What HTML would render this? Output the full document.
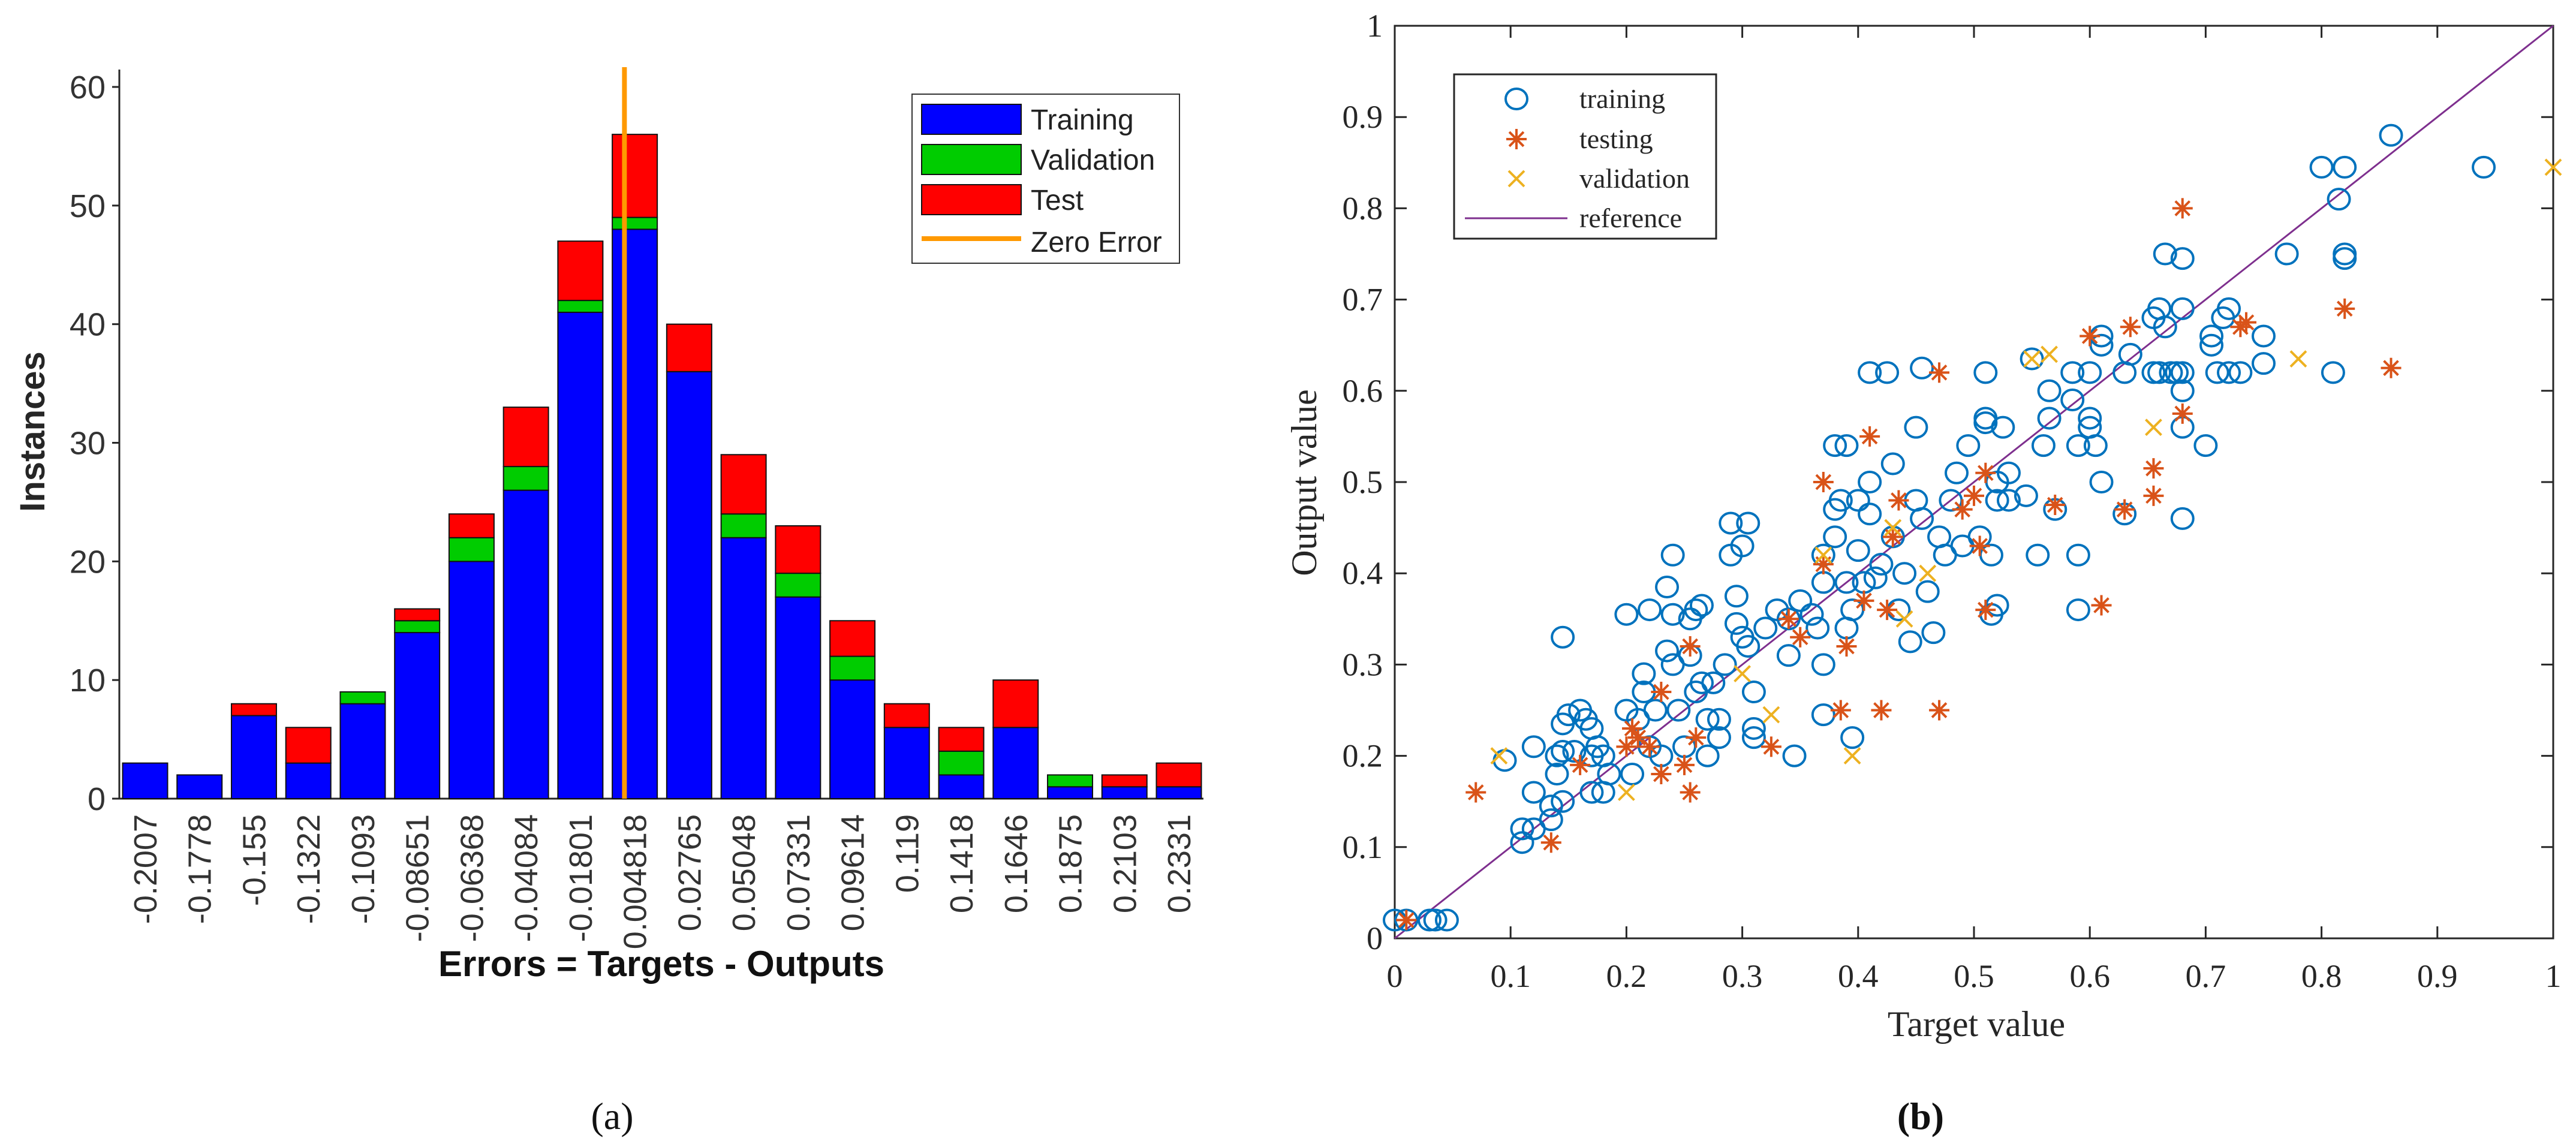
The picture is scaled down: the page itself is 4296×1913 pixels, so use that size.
<!DOCTYPE html>
<html><head><meta charset="utf-8"><style>
html,body{margin:0;padding:0;background:#fff;}
svg{display:block;}
</style></head><body>
<svg id="fig" width="4296" height="1913" xmlns="http://www.w3.org/2000/svg">
<g id="hist"></g>
<g id="scat"></g>
</svg>
<script>
// ---------- Histogram data ----------
const binLabels = ["-0.2007","-0.1778","-0.155","-0.1322","-0.1093","-0.08651","-0.06368","-0.04084","-0.01801","0.004818","0.02765","0.05048","0.07331","0.09614","0.119","0.1418","0.1646","0.1875","0.2103","0.2331"];
const trainCounts = [3,2,7,3,8,14,20,26,41,48,36,22,17,10,6,2,6,1,1,1];
const valCounts   = [0,0,0,0,1,1,2,2,1,1,0,2,2,2,0,2,0,1,0,0];
const testCounts  = [0,0,1,3,0,1,2,5,5,7,4,5,4,3,2,2,4,0,1,2];
const yTicksHist = [0,10,20,30,40,50,60];
const zeroErrorBin = 8.81;

// ---------- Scatter data ----------
const trainX = [0.0,0.01,0.03,0.035,0.045,0.095,0.11,0.11,0.12,0.12,0.12,0.135,0.135,0.14,0.14,0.145,0.145,0.145,0.15,0.145,0.155,0.16,0.165,0.17,0.17,0.17,0.175,0.18,0.18,0.185,0.2,0.2,0.205,0.21,0.215,0.215,0.22,0.22,0.225,0.23,0.235,0.235,0.24,0.24,0.24,0.245,0.25,0.255,0.255,0.26,0.26,0.265,0.265,0.27,0.27,0.275,0.28,0.28,0.285,0.29,0.29,0.295,0.295,0.3,0.3,0.305,0.305,0.31,0.31,0.31,0.32,0.33,0.34,0.34,0.345,0.35,0.36,0.365,0.37,0.37,0.37,0.37,0.38,0.38,0.38,0.385,0.39,0.39,0.39,0.395,0.395,0.4,0.4,0.405,0.41,0.41,0.41,0.415,0.42,0.425,0.43,0.43,0.435,0.44,0.445,0.45,0.45,0.455,0.455,0.46,0.465,0.47,0.475,0.48,0.485,0.49,0.495,0.505,0.51,0.51,0.51,0.515,0.515,0.52,0.52,0.52,0.525,0.53,0.53,0.545,0.55,0.555,0.56,0.565,0.565,0.57,0.585,0.585,0.59,0.59,0.59,0.6,0.6,0.6,0.605,0.61,0.61,0.61,0.63,0.63,0.635,0.655,0.655,0.66,0.66,0.665,0.665,0.67,0.675,0.68,0.68,0.68,0.68,0.68,0.68,0.7,0.705,0.705,0.71,0.715,0.72,0.72,0.73,0.75,0.75,0.77,0.8,0.81,0.815,0.82,0.82,0.82,0.86,0.94];
const trainY = [0.02,0.02,0.02,0.02,0.02,0.195,0.105,0.12,0.12,0.16,0.21,0.13,0.145,0.2,0.18,0.15,0.205,0.235,0.245,0.33,0.205,0.25,0.24,0.23,0.2,0.16,0.21,0.16,0.2,0.18,0.355,0.25,0.18,0.24,0.27,0.29,0.36,0.21,0.25,0.2,0.315,0.385,0.3,0.355,0.42,0.25,0.21,0.31,0.35,0.36,0.27,0.28,0.365,0.2,0.24,0.28,0.22,0.24,0.3,0.42,0.455,0.345,0.375,0.33,0.43,0.455,0.32,0.27,0.23,0.22,0.34,0.36,0.31,0.35,0.2,0.37,0.355,0.34,0.42,0.39,0.3,0.245,0.54,0.47,0.44,0.48,0.54,0.39,0.34,0.22,0.36,0.48,0.425,0.39,0.5,0.465,0.62,0.395,0.41,0.62,0.52,0.44,0.36,0.4,0.325,0.48,0.56,0.625,0.46,0.38,0.335,0.44,0.42,0.48,0.51,0.43,0.54,0.44,0.62,0.57,0.565,0.42,0.355,0.48,0.5,0.365,0.56,0.51,0.48,0.485,0.635,0.42,0.54,0.6,0.57,0.47,0.59,0.62,0.54,0.42,0.36,0.62,0.57,0.56,0.54,0.66,0.65,0.5,0.465,0.62,0.64,0.62,0.68,0.69,0.62,0.75,0.67,0.62,0.62,0.745,0.69,0.6,0.62,0.56,0.46,0.54,0.65,0.66,0.62,0.68,0.69,0.62,0.62,0.66,0.63,0.75,0.845,0.62,0.81,0.845,0.75,0.745,0.88,0.845];
const testX = [0.01,0.07,0.135,0.16,0.2,0.205,0.21,0.22,0.23,0.23,0.25,0.255,0.255,0.26,0.325,0.34,0.35,0.37,0.37,0.385,0.39,0.405,0.41,0.42,0.425,0.43,0.435,0.47,0.47,0.49,0.5,0.505,0.51,0.51,0.57,0.6,0.61,0.63,0.635,0.655,0.655,0.68,0.68,0.73,0.735,0.82,0.86];
const testY = [0.02,0.16,0.105,0.19,0.21,0.23,0.22,0.21,0.18,0.27,0.19,0.16,0.32,0.22,0.21,0.35,0.33,0.41,0.5,0.25,0.32,0.37,0.55,0.25,0.36,0.44,0.48,0.62,0.25,0.47,0.485,0.43,0.51,0.36,0.475,0.66,0.365,0.47,0.67,0.515,0.485,0.8,0.575,0.67,0.675,0.69,0.625];
const valX = [0.09,0.2,0.3,0.325,0.37,0.395,0.43,0.44,0.46,0.55,0.565,0.655,0.78,1.0];
const valY = [0.2,0.16,0.29,0.245,0.42,0.2,0.45,0.35,0.4,0.635,0.64,0.56,0.635,0.845];
const sTicks = [0,0.1,0.2,0.3,0.4,0.5,0.6,0.7,0.8,0.9,1];
const sTickLabels = ["0","0.1","0.2","0.3","0.4","0.5","0.6","0.7","0.8","0.9","1"];

const NS = "http://www.w3.org/2000/svg";
function mk(parent, tag, attrs, text){
  const e = document.createElementNS(NS, tag);
  for (const k in attrs) e.setAttribute(k, attrs[k]);
  if (text !== undefined) e.textContent = text;
  parent.appendChild(e);
  return e;
}

// ================= HISTOGRAM =================
(function(){
  const g = document.getElementById('hist');
  const L=199, R=2007, T=116, B=1332;
  const y = v => B - v*(B-145)/60;
  const x0 = 242, pitch = (1966-242)/19, bw = 75;
  const x = i => x0 + i*pitch;
  const sans = '"Liberation Sans", Arial, sans-serif';

  let a = mk(g,'line',{x1:L,y1:T,x2:L,y2:B,stroke:'#262626','stroke-width':3});
   
  a = mk(g,'line',{x1:L,y1:B,x2:R,y2:B,stroke:'#262626','stroke-width':3});
   

  yTicksHist.forEach(v=>{
    const t = mk(g,'line',{x1:L-12,y1:y(v),x2:L,y2:y(v),stroke:'#262626','stroke-width':3});
     
    const lb = mk(g,'text',{x:176,y:y(v)+19,'text-anchor':'end','font-family':sans,'font-size':54,fill:'#333'},String(v));
     
  });

  binLabels.forEach((lab,i)=>{
    const cx = x(i);
    const tr = trainCounts[i], va = valCounts[i], te = testCounts[i];
    const segs = [[0,tr,'#0000FF','bar-training'],[tr,tr+va,'#00CC00','bar-validation'],[tr+va,tr+va+te,'#FF0000','bar-test']];
    segs.forEach(s=>{
      if (s[1]>s[0]){
        const r = mk(g,'rect',{x:cx-bw/2,y:y(s[1]),width:bw,height:y(s[0])-y(s[1]),fill:s[2],stroke:'#111','stroke-width':2});
         
      }
    });
    const t = mk(g,'text',{x:0,y:0,'text-anchor':'end','font-family':sans,'font-size':54,fill:'#333',
      transform:`translate(${cx+19},${B+26}) rotate(-90)`},lab);
     
  });

  const zx = x(zeroErrorBin);
  const z = mk(g,'line',{x1:zx,y1:112,x2:zx,y2:B,stroke:'#FF9900','stroke-width':8});
   

  let t = mk(g,'text',{x:0,y:0,'text-anchor':'middle','font-family':sans,'font-size':58,'font-weight':'bold',fill:'#262626',
    transform:'translate(74,720) rotate(-90)'},'Instances');
   
  t = mk(g,'text',{x:1103,y:1628,'text-anchor':'middle','font-family':sans,'font-size':60,'font-weight':'bold',fill:'#111'},'Errors = Targets - Outputs');
   

  const lg = mk(g,'g',{});
   
  mk(lg,'rect',{x:1521,y:157,width:446,height:282,fill:'#fff',stroke:'#333','stroke-width':2});
  const entries = [['Training','#0000FF',199],['Validation','#00CC00',266],['Test','#FF0000',333]];
  entries.forEach(e=>{
    const r = mk(lg,'rect',{x:1537,y:e[2]-25,width:166,height:50,fill:e[1],stroke:'#111','stroke-width':2});
     
    const tx = mk(lg,'text',{x:1719,y:e[2]+17,'font-family':sans,'font-size':48,fill:'#222'},e[0]);
     
  });
  const ol = mk(lg,'line',{x1:1537,y1:398,x2:1703,y2:398,stroke:'#FF9900','stroke-width':8});
   
  const ot = mk(lg,'text',{x:1719,y:420,'font-family':sans,'font-size':48,fill:'#222'},'Zero Error');
   

  const cap = mk(g,'text',{x:1021,y:1883,'text-anchor':'middle','font-family':'"Liberation Serif", serif','font-size':64,fill:'#111'},'(a)');
   
})();

// ================= SCATTER =================
(function(){
  const g = document.getElementById('scat');
  const L=2326, R=4258, T=43, B=1565;
  const sx = v => L + v*(R-L);
  const sy = v => B - v*(B-T);
  const serif = '"Liberation Serif", "Times New Roman", serif';

  let f = mk(g,'rect',{x:L,y:T,width:R-L,height:B-T,fill:'#fff',stroke:'#262626','stroke-width':3});
   

  sTicks.forEach((v,i)=>{
    let t;
    t = mk(g,'line',{x1:sx(v),y1:B,x2:sx(v),y2:B-20,stroke:'#262626','stroke-width':3});  
    t = mk(g,'line',{x1:sx(v),y1:T,x2:sx(v),y2:T+20,stroke:'#262626','stroke-width':3});  
    t = mk(g,'line',{x1:L,y1:sy(v),x2:L+20,y2:sy(v),stroke:'#262626','stroke-width':3});  
    t = mk(g,'line',{x1:R,y1:sy(v),x2:R-20,y2:sy(v),stroke:'#262626','stroke-width':3});  
    t = mk(g,'text',{x:sx(v),y:1646,'text-anchor':'middle','font-family':serif,'font-size':54,fill:'#262626'},sTickLabels[i]);
     
    t = mk(g,'text',{x:2306,y:sy(v)+18,'text-anchor':'end','font-family':serif,'font-size':54,fill:'#262626'},sTickLabels[i]);
     
  });

  const ref = mk(g,'line',{x1:sx(0),y1:sy(0),x2:sx(1),y2:sy(1),stroke:'#7E2F8E','stroke-width':3});
   

  trainX.forEach((xv,i)=>{
    const c = mk(g,'ellipse',{cx:sx(xv),cy:sy(trainY[i]),rx:18,ry:17,fill:'none',stroke:'#0072BD','stroke-width':4});
     
  });
  function star(parent,cx,cy,s){
    return mk(parent,'path',{d:`M${cx-s} ${cy}H${cx+s}M${cx} ${cy-s}V${cy+s}M${cx-s*0.7} ${cy-s*0.7}L${cx+s*0.7} ${cy+s*0.7}M${cx-s*0.7} ${cy+s*0.7}L${cx+s*0.7} ${cy-s*0.7}`,stroke:'#D95319','stroke-width':4,fill:'none'});
  }
  testX.forEach((xv,i)=>{
    const p = star(g,sx(xv),sy(testY[i]),17);
     
  });
  function cross(parent,cx,cy,s){
    return mk(parent,'path',{d:`M${cx-s} ${cy-s}L${cx+s} ${cy+s}M${cx-s} ${cy+s}L${cx+s} ${cy-s}`,stroke:'#EDB120','stroke-width':4,fill:'none'});
  }
  valX.forEach((xv,i)=>{
    const p = cross(g,sx(xv),sy(valY[i]),13);
     
  });

  let t = mk(g,'text',{x:3296,y:1728,'text-anchor':'middle','font-family':serif,'font-size':60,fill:'#262626'},'Target value');
   
  t = mk(g,'text',{x:0,y:0,'text-anchor':'middle','font-family':serif,'font-size':60,fill:'#262626',transform:'translate(2195,805) rotate(-90)'},'Output value');
   

  const lg = mk(g,'g',{});
   
  mk(lg,'rect',{x:2425,y:124,width:437,height:274,fill:'#fff',stroke:'#262626','stroke-width':3});
  let m = mk(lg,'ellipse',{cx:2529,cy:165,rx:18,ry:17,fill:'none',stroke:'#0072BD','stroke-width':4});  
  m = star(lg,2529,232,17);  
  m = cross(lg,2529,298,13);  
  m = mk(lg,'line',{x1:2443,y1:364,x2:2614,y2:364,stroke:'#7E2F8E','stroke-width':3});  
  [['training',165],['testing',232],['validation',298],['reference',364]].forEach(e=>{
    const tx = mk(lg,'text',{x:2634,y:e[1]+15,'font-family':serif,'font-size':46,fill:'#262626'},e[0]);
     
  });

  const cap = mk(g,'text',{x:3203,y:1883,'text-anchor':'middle','font-family':serif,'font-size':64,'font-weight':'bold',fill:'#111'},'(b)');
   
})();
</script>
</body></html>
